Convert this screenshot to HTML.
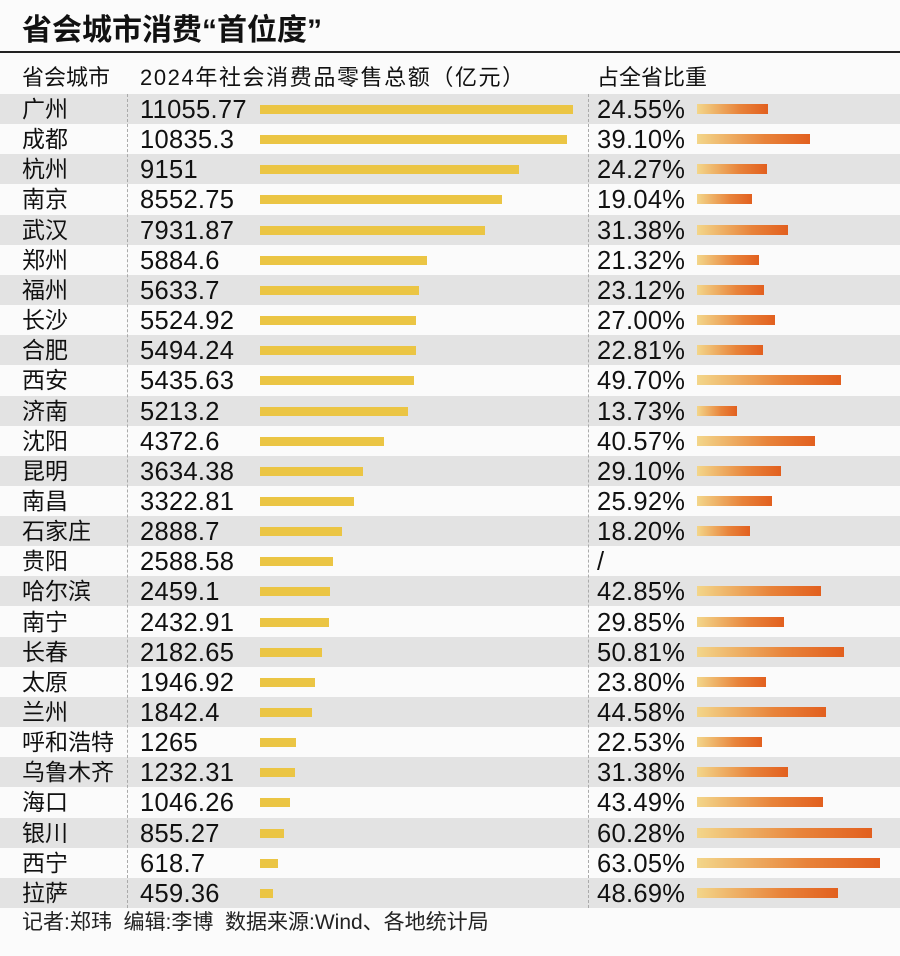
<!DOCTYPE html>
<html><head><meta charset="utf-8">
<style>
body{margin:0;width:900px;height:956px;background:#fbfbfb;font-family:"Liberation Sans","Noto Sans CJK SC",sans-serif;color:#111;overflow:hidden;position:relative}
#title{position:absolute;left:22px;top:13px;font-size:30px;font-weight:bold;line-height:36px}
#rule{position:absolute;left:0;top:51px;width:900px;height:2px;background:#222}
.h{position:absolute;top:63px;font-size:22px;line-height:30px}
.row{position:absolute;left:0;width:900px;height:30px}
.row.g{background:#e3e3e3}
.t{position:absolute;font-size:23px;line-height:30px;top:0}
.n{font-size:25.5px;letter-spacing:0.3px;top:1px}
.yb{position:absolute;height:9px;top:11px;background:#ebc544}
.ob{position:absolute;height:10px;top:10px;background:linear-gradient(90deg,#f3d68a,#e8833a 60%,#e2601f)}
.dash{position:absolute;top:94px;height:814px;border-left:1px dashed #aaa}
#foot{position:absolute;left:22px;top:908px;font-size:21px;line-height:30px;color:#222}
</style></head><body>
<div id="title">省会城市消费“首位度”</div>
<div id="rule"></div>
<div class="h" style="left:22px">省会城市</div>
<div class="h" style="left:140px;letter-spacing:1.6px">2024年社会消费品零售总额（亿元）</div>
<div class="h" style="left:597px">占全省比重</div>
<div id="rows"></div>
<div class="dash" style="left:127px"></div>
<div class="dash" style="left:588px"></div>
<div id="foot">记者:郑玮&nbsp;&nbsp;编辑:李博&nbsp;&nbsp;数据来源:Wind、各地统计局</div>
<script>
const cities=["广州","成都","杭州","南京","武汉","郑州","福州","长沙","合肥","西安","济南","沈阳","昆明","南昌","石家庄","贵阳","哈尔滨","南宁","长春","太原","兰州","呼和浩特","乌鲁木齐","海口","银川","西宁","拉萨"];
const sales=[11055.77,10835.3,9151,8552.75,7931.87,5884.6,5633.7,5524.92,5494.24,5435.63,5213.2,4372.6,3634.38,3322.81,2888.7,2588.58,2459.1,2432.91,2182.65,1946.92,1842.4,1265,1232.31,1046.26,855.27,618.7,459.36];
const salesLabels=["11055.77","10835.3","9151","8552.75","7931.87","5884.6","5633.7","5524.92","5494.24","5435.63","5213.2","4372.6","3634.38","3322.81","2888.7","2588.58","2459.1","2432.91","2182.65","1946.92","1842.4","1265","1232.31","1046.26","855.27","618.7","459.36"];
const shares=[24.55,39.10,24.27,19.04,31.38,21.32,23.12,27.00,22.81,49.70,13.73,40.57,29.10,25.92,18.20,null,42.85,29.85,50.81,23.80,44.58,22.53,31.38,43.49,60.28,63.05,48.69];
const xS=v=>v*0.02831, xP=v=>v*2.9;
const root=document.getElementById('rows');
cities.forEach((c,i)=>{
  const r=document.createElement('div');
  r.className='row'+(i%2==0?' g':'');
  r.style.top=(94+i*30.15)+'px';
  
  
  const a=document.createElement('div');a.className='t';a.style.left='22px';a.textContent=c;
  
  
  const b=document.createElement('div');b.className='t n';b.style.left='140px';b.textContent=salesLabels[i];
  
  
  const y=document.createElement('div');y.className='yb';y.style.left='260px';y.style.width=xS(sales[i])+'px';
  
  
  const p=document.createElement('div');p.className='t n';p.style.left='597px';
  p.textContent=shares[i]==null?'/':shares[i].toFixed(2)+'%';
  
  
  r.append(a,b,y,p);
  if(shares[i]!=null){
    const o=document.createElement('div');o.className='ob';o.style.left='697px';o.style.width=xP(shares[i])+'px';
    
    
    r.append(o);
  }
  root.append(r);
});
</script>
</body></html>
